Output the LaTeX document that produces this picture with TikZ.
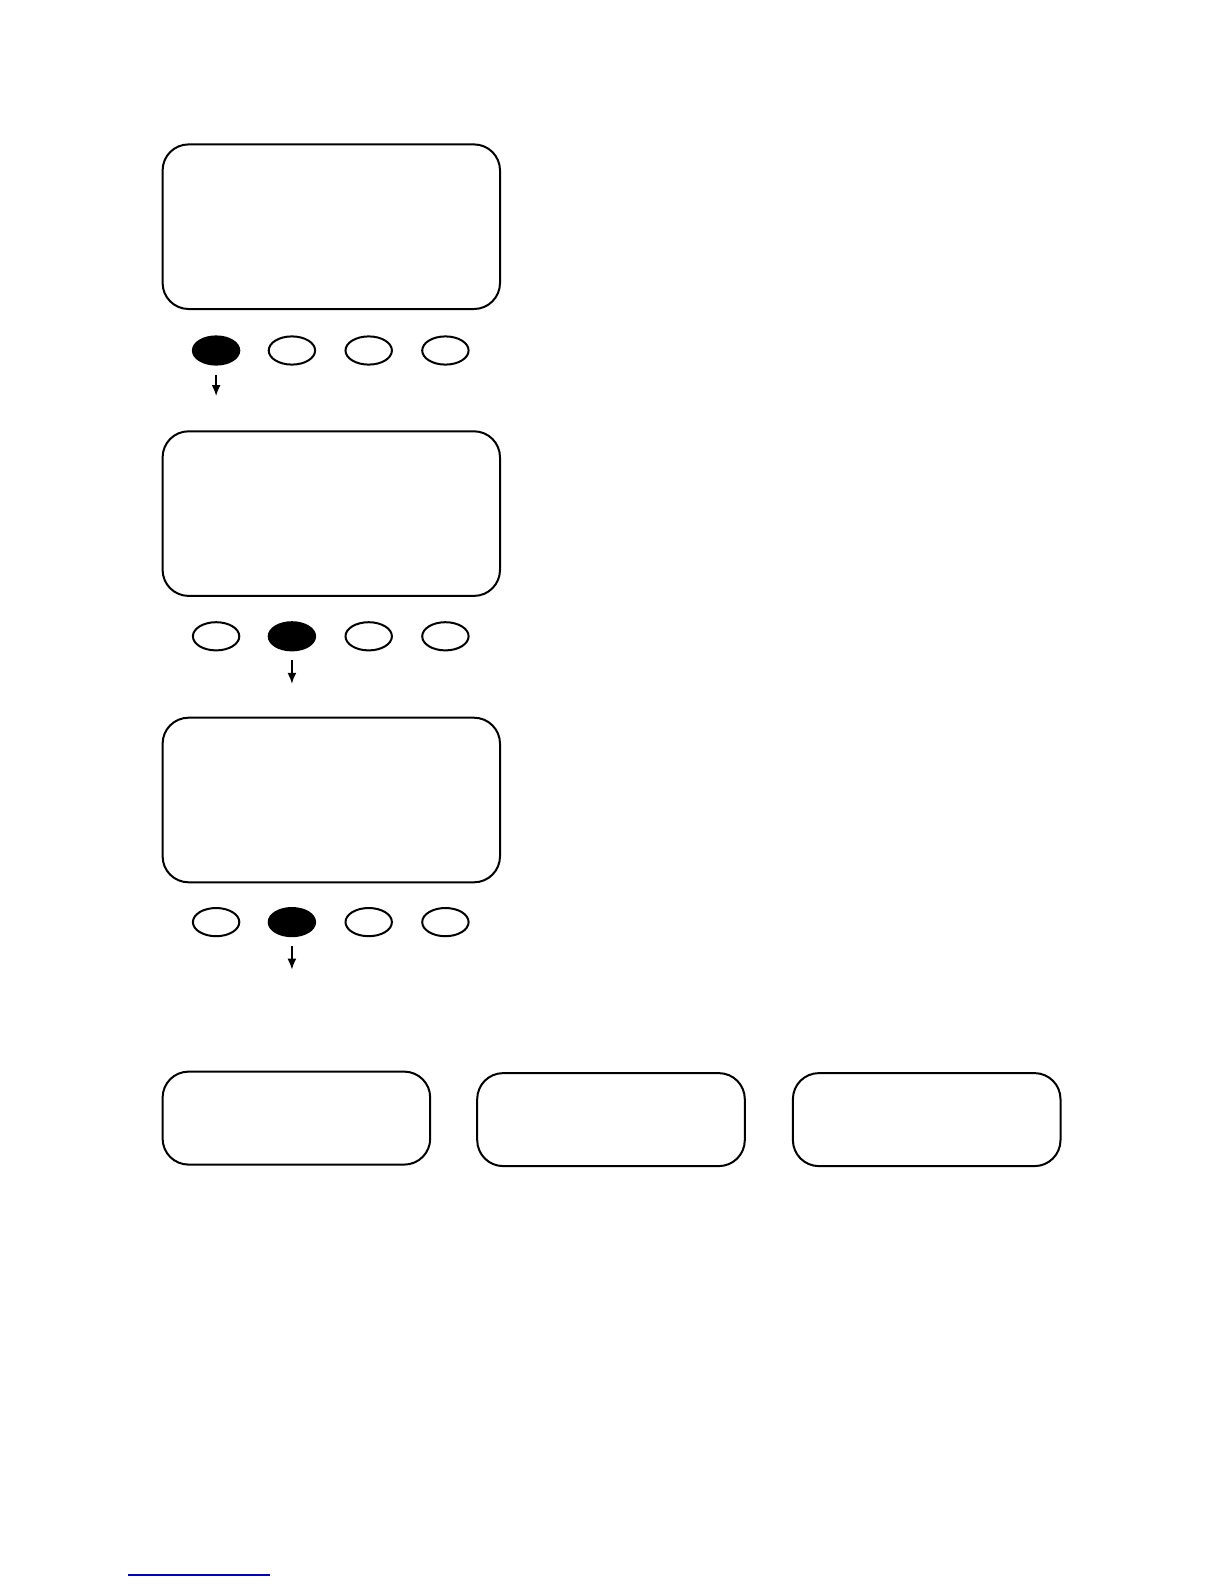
\documentclass[tikz,border=0pt]{standalone}
\usetikzlibrary{shapes.geometric,arrows.meta}
\begin{document}
\begin{tikzpicture}[x=0.5pt,y=-0.5pt,line width=1pt,
                screen/.style={draw,rounded corners=13pt,minimum width=168.7pt,minimum height=82.3pt},
                panel/.style={draw,rounded corners=13pt,minimum width=133.8pt,minimum height=46.5pt},
                key/.style={draw,ellipse,inner sep=0pt,minimum width=23.2pt,minimum height=14.1pt},
                pressed/.style={key,fill=black},
                arr/.style={->,>={Latex[length=5.5pt,width=4.5pt]},line width=0.8pt,shorten <=4.5pt}]
                \useasboundingbox (0,0) rectangle (1224,1584);
                % screens
                \node[screen](SCRA) at (331.3,226.7) {};
                \node[screen](SCRB) at (331.3,513.6) {};
                \node[screen](SCRC) at (331.3,800) {};
                % keys under each screen
                \node[pressed](KA1) at (216.1,350.5) {};
                \node[key](KA2) at (291.9,350.5) {};
                \node[key](KA3) at (368.7,350.5) {};
                \node[key](KA4) at (445.4,350.5) {};
                \node[key](KB1) at (216.1,636.3) {};
                \node[pressed](KB2) at (291.9,636.3) {};
                \node[key](KB3) at (368.7,636.3) {};
                \node[key](KB4) at (445.4,636.3) {};
                \node[key](KC1) at (216.1,922.1) {};
                \node[pressed](KC2) at (291.9,922.1) {};
                \node[key](KC3) at (368.7,922.1) {};
                \node[key](KC4) at (445.4,922.1) {};
                % bottom panels
                \node[panel](PANA) at (296.4,1118.1) {};
                \node[panel](PANB) at (611,1119.6) {};
                \node[panel](PANC) at (926.7,1119.6) {};
                % arrows
                \coordinate (ENDA) at (216.1,396);
                \coordinate (ENDB) at (291.9,683.8);
                \coordinate (ENDC) at (291.9,969.6);
                \draw[arr] (KA1) -- (ENDA);
                \draw[arr] (KB2) -- (ENDB);
                \draw[arr] (KC2) -- (ENDC);
                % link underline
                \coordinate (LNKL) at (128,1575);
                \coordinate (LNKR) at (270,1575);
                \draw[blue!75!black,line width=0.6pt] (LNKL) -- (LNKR);
            \end{tikzpicture}
\end{document}
